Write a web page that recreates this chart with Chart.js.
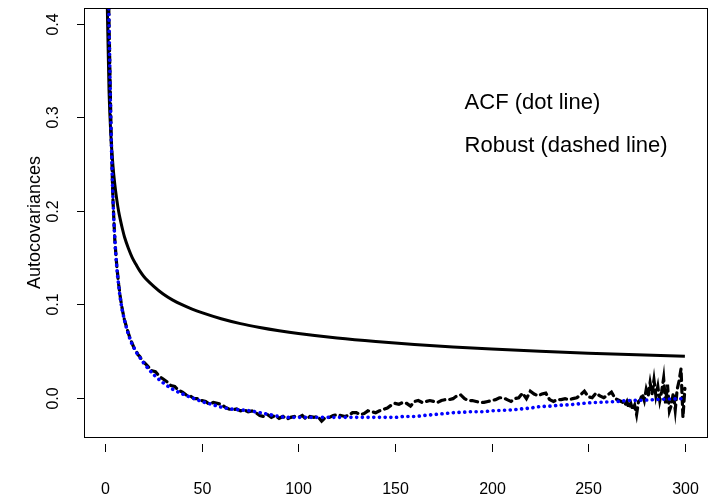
<!DOCTYPE html>
<html>
<head>
<meta charset="utf-8">
<script src="https://cdn.jsdelivr.net/npm/chart.js@4.4.0/dist/chart.umd.min.js"></script>
<style>
  html, body { margin: 0; padding: 0; background: #fff; }
  #wrap { width: 709px; height: 503px; }
</style>
</head>
<body>
<div id="wrap"><canvas id="acvChart" width="709" height="503"></canvas></div>
<script>
// theoretical autocovariance (solid line)
var solidLags = [1, 2, 3, 4, 5, 6, 7, 8, 9, 10,
  12, 14, 16, 18, 20, 25, 30, 35, 40, 45,
  50, 60, 70, 80, 90, 100, 120, 140, 160, 180, 200,
  225, 250, 275, 300];
var solidVals = [0.429, 0.328, 0.279, 0.249, 0.228, 0.212, 0.199, 0.189, 0.180, 0.172,
  0.160, 0.150, 0.1425, 0.1355, 0.1298, 0.1195, 0.1110, 0.1045, 0.0993, 0.0948,
  0.0910, 0.0845, 0.0793, 0.0752, 0.0717, 0.0687, 0.0639, 0.0601, 0.0570, 0.0544, 0.0521,
  0.0497, 0.0476, 0.0459, 0.0445];

// sample ACF (blue dotted)
var acfLags = [1, 2, 3, 4, 5, 6, 7, 8, 9, 10,
  11, 12, 13, 14, 15, 16, 17, 18, 19, 20,
  25, 30, 35, 40, 45, 50, 55, 60, 65, 70,
  75, 80, 85, 90, 95, 100, 105, 110, 115, 120,
  125, 130, 135, 140, 145, 150, 155, 160, 165, 170,
  175, 180, 185, 190, 195, 200, 205, 210, 215, 220,
  225, 230, 235, 240, 245, 250, 255, 260, 265, 270,
  275, 280, 285, 290, 295, 300];
var acfVals = [0.52, 0.40, 0.29, 0.215, 0.17, 0.14, 0.12, 0.104, 0.092, 0.083,
  0.075, 0.068, 0.062, 0.057, 0.053, 0.049, 0.046, 0.043, 0.040, 0.037,
  0.025, 0.016, 0.009, 0.004, 0.000, -0.004, -0.007, -0.010, -0.012, -0.013,
  -0.014, -0.016, -0.018, -0.020, -0.021, -0.021, -0.021, -0.021, -0.021, -0.021,
  -0.021, -0.021, -0.021, -0.021, -0.021, -0.021, -0.020, -0.020, -0.019, -0.018,
  -0.017, -0.016, -0.0155, -0.015, -0.015, -0.014, -0.0135, -0.013, -0.012, -0.011,
  -0.0095, -0.009, -0.008, -0.0075, -0.0065, -0.0055, -0.005, -0.0045, -0.004, -0.003,
  -0.0028, -0.0025, -0.002, -0.0015, -0.0012, -0.001];

// robust estimate (black dashed)
var robustLags = [1, 2, 3, 4, 5, 6, 7, 8, 9, 10,
  11, 12, 13, 14, 15, 16, 17, 18, 19, 20,
  22, 24, 26, 28, 30, 32, 34, 36, 38, 40,
  42, 44, 46, 48, 50, 52, 54, 56, 58, 60,
  62, 64, 66, 68, 70, 72, 74, 76, 78, 80,
  82, 84, 86, 88, 90, 92, 94, 96, 98, 100,
  102, 104, 106, 108, 110, 112, 114, 116, 118, 120,
  122, 124, 126, 128, 130, 132, 134, 136, 138, 140,
  142, 144, 146, 148, 150, 152, 154, 156, 158, 160,
  162, 164, 166, 168, 170, 172, 174, 176, 178, 180,
  182, 184, 186, 188, 190, 192, 194, 196, 198, 200,
  202, 204, 206, 208, 210, 212, 214, 216, 218, 220,
  222, 224, 226, 228, 230, 232, 234, 236, 238, 240,
  242, 244, 246, 248, 250, 252, 254, 256, 258, 260,
  262, 264, 266, 268,
  269, 270, 271, 272, 273, 274, 275, 276, 277, 278,
  279, 280, 281, 282, 283, 284, 285, 286, 287, 288,
  289, 290, 291, 292, 293, 294, 295, 296, 297, 298, 299, 300];
var robustVals = [0.52, 0.40, 0.29, 0.213, 0.168, 0.141, 0.121, 0.105, 0.093, 0.083,
  0.076, 0.069, 0.063, 0.058, 0.053, 0.050, 0.046, 0.044, 0.040, 0.038,
  0.034, 0.029, 0.028, 0.023, 0.020, 0.017, 0.013, 0.012, 0.008, 0.006,
  0.003, 0.002, -0.001, -0.001, -0.003, -0.004, -0.007, -0.005, -0.006, -0.007,
  -0.010, -0.012, -0.013, -0.012, -0.014, -0.013, -0.015, -0.014, -0.016, -0.019,
  -0.020, -0.018, -0.021, -0.019, -0.022, -0.020, -0.023, -0.021, -0.020, -0.021,
  -0.019, -0.023, -0.020, -0.021, -0.020, -0.025, -0.021, -0.021, -0.019, -0.018,
  -0.019, -0.020, -0.019, -0.016, -0.016, -0.018, -0.017, -0.014, -0.015, -0.016,
  -0.014, -0.0125, -0.011, -0.008, -0.006, -0.007, -0.005, -0.006, -0.009, -0.004,
  -0.003, -0.005, -0.004, -0.003, -0.004, -0.005, -0.003, -0.002, -0.002, -0.001,
  0.002, 0.003, -0.001, -0.003, -0.003, -0.004, -0.005, -0.005, -0.004, -0.003,
  -0.002, 0.000, 0.000, -0.002, -0.004, -0.001, 0.000, 0.005, -0.001, 0.007,
  0.004, 0.002, 0.004, 0.005, -0.002, -0.004, -0.002, -0.002, -0.001, -0.002,
  -0.001, 0.000, 0.003, 0.007, 0.001, 0.000, 0.005, 0.002, 0.000, 0.003,
  0.006, -0.001, -0.003, -0.005,
  -0.008, -0.004, -0.011, -0.006, -0.013, -0.008, -0.018, -0.004, -0.002, 0.004,
  -0.003, 0.009, 0.002, 0.016, 0.004, 0.019, 0.002, 0.012, -0.003, 0.007,
  0.021, -0.006, 0.014, -0.014, -0.008, 0.005, -0.013, 0.009, 0.018, 0.031, -0.021, 0.010];

var xTicks = [0, 50, 100, 150, 200, 250, 300];
var yTicks = [0, 0.1, 0.2, 0.3, 0.4];
var yTickLabels = ['0.0', '0.1', '0.2', '0.3', '0.4'];
var yTitle = 'Autocovariances';
var notes = ['ACF (dot line)', 'Robust (dashed line)'];
var notePos = [[186, 0.315], [186, 0.269]];

function pts(xs, ys) {
  var out = [];
  for (var i = 0; i < xs.length; i++) out.push({ x: xs[i], y: ys[i] });
  return out;
}

// R-like box, axes and text
var rAxes = {
  id: 'rAxes',
  afterDraw: function (chart) {
    var ctx = chart.ctx;
    var a = chart.chartArea;
    var sx = chart.scales.x, sy = chart.scales.y;
    ctx.save();
    ctx.strokeStyle = '#000';
    ctx.lineWidth = 1;
    ctx.strokeRect(a.left + 0.5, a.top + 0.5, a.right - a.left - 1, a.bottom - a.top);
    ctx.fillStyle = '#000';
    ctx.font = '16px "Liberation Sans", Arial, sans-serif';

    // x axis
    ctx.textAlign = 'center';
    ctx.textBaseline = 'middle';
    xTicks.forEach(function (t) {
      var px = Math.round(sx.getPixelForValue(t)) + 0.5;
      ctx.beginPath();
      ctx.moveTo(px, a.bottom + 7);
      ctx.lineTo(px, a.bottom + 15);
      ctx.stroke();
      ctx.fillText(String(t), px, a.bottom + 53);
    });

    // y axis
    yTicks.forEach(function (t, i) {
      var py = Math.round(sy.getPixelForValue(t)) + 0.5;
      ctx.beginPath();
      ctx.moveTo(a.left - 7, py);
      ctx.lineTo(a.left, py);
      ctx.stroke();
      ctx.save();
      ctx.translate(a.left - 30, py);
      ctx.rotate(-Math.PI / 2);
      ctx.fillText(yTickLabels[i], 0, 0);
      ctx.restore();
    });

    ctx.save();
    ctx.font = '18px "Liberation Sans", Arial, sans-serif';
    ctx.translate(a.left - 49, (a.top + a.bottom) / 2);
    ctx.rotate(-Math.PI / 2);
    ctx.fillText(yTitle, 0, 0);
    ctx.restore();

    ctx.font = '22px "Liberation Sans", Arial, sans-serif';
    ctx.textAlign = 'left';
    notes.forEach(function (n, i) {
      ctx.fillText(n, sx.getPixelForValue(notePos[i][0]), sy.getPixelForValue(notePos[i][1]));
    });
    ctx.restore();
  }
};

new Chart(document.getElementById('acvChart'), {
  type: 'scatter',
  data: {
    datasets: [{
      label: 'ACF',
      data: pts(acfLags, acfVals),
      showLine: true,
      borderColor: '#0000ff',
      borderWidth: 3.6,
      borderDash: [0.1, 5.6],
      borderCapStyle: 'round',
      pointRadius: 0,
      cubicInterpolationMode: 'monotone',
      order: 0
    }, {
      label: 'Robust',
      data: pts(robustLags, robustVals),
      showLine: true,
      borderColor: '#000',
      borderWidth: 3.2,
      borderDash: [7, 5],
      borderCapStyle: 'round',
      pointRadius: 0,
      tension: 0,
      order: 1
    }, {
      label: 'Theoretical',
      data: pts(solidLags, solidVals),
      showLine: true,
      borderColor: '#000',
      borderWidth: 3,
      pointRadius: 0,
      cubicInterpolationMode: 'monotone',
      order: 2
    }]
  },
  options: {
    responsive: false,
    animation: false,
    events: [],
    layout: { padding: { left: 84, top: 8, right: 1, bottom: 66 } },
    plugins: { legend: { display: false }, tooltip: { enabled: false } },
    scales: {
      x: { type: 'linear', min: -10.96, max: 311.96, display: false },
      y: { type: 'linear', min: -0.042, max: 0.417, display: false }
    }
  },
  plugins: [rAxes]
});
</script>
</body>
</html>
